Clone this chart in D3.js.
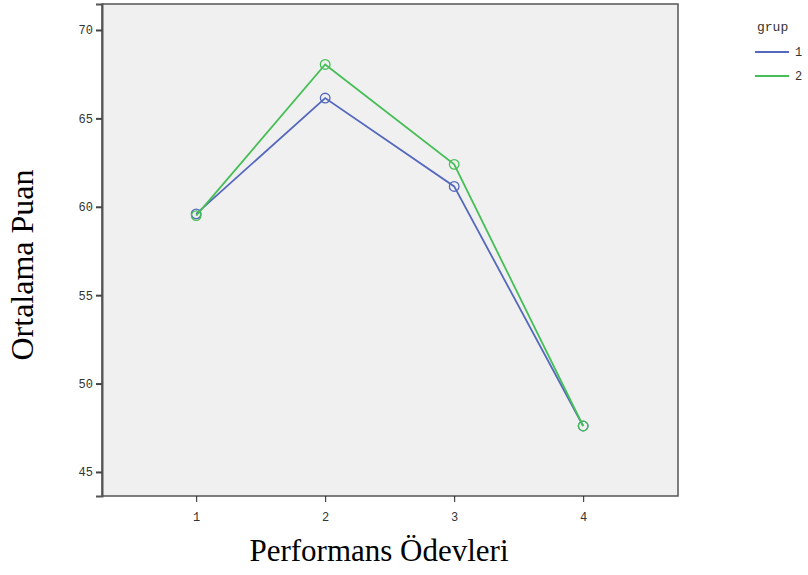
<!DOCTYPE html>
<html><head><meta charset="utf-8">
<script src="https://cdn.jsdelivr.net/npm/d3@7"></script>
<style>body{margin:0;background:#fff}svg{display:block}</style>
</head><body>
<script>
const categories = [1, 2, 3, 4];
const group1 = [59.6, 66.15, 61.15, 47.6];
const group2 = [59.5, 68.05, 62.4, 47.6];
const yTicks = [45, 50, 55, 60, 65, 70];
const seriesNames = ["1", "2"];
const colors = ["#5468bd", "#45bf55"];

const W = 808, H = 575;
const svg = d3.select("body").append("svg").attr("width", W).attr("height", H);
const L = 102, T = 4, R = 678, B = 496;
const x = d3.scaleLinear().domain([0.27, 4.735]).range([L, R]);
const y = d3.scaleLinear().domain([43.64, 71.47]).range([B, T]);

svg.append("rect").attr("x", L).attr("y", T).attr("width", R - L).attr("height", B - T)
  .attr("fill", "#f0f0f0").attr("stroke", "#555").attr("stroke-width", 1.5);

const yAxis = d3.axisLeft(y).tickValues(yTicks).tickSize(6).tickPadding(3).tickFormat(d3.format("d"));
const gy = svg.append("g").attr("transform", `translate(${L},0)`).call(yAxis);
gy.select(".domain").attr("stroke", "#555").attr("stroke-width", 2);
gy.selectAll(".tick line").attr("stroke", "#444").attr("stroke-width", 2);
gy.selectAll("text").attr("font-family", "Liberation Mono").attr("font-size", 12).attr("fill", "#333");

const xAxis = d3.axisBottom(x).tickValues(categories).tickSize(6).tickPadding(10).tickFormat(d3.format("d"));
const gx = svg.append("g").attr("transform", `translate(0,${B})`).call(xAxis);
gx.select(".domain").remove();
gx.selectAll(".tick line").attr("stroke", "#222").attr("stroke-width", 1);
gx.selectAll("text").attr("font-family", "Liberation Mono").attr("font-size", 12).attr("fill", "#333");

const series = [group1, group2];
const line = d3.line().x((d, i) => x(categories[i])).y(d => y(d));
series.forEach((s, k) => {
  svg.append("path").datum(s).attr("d", line).attr("fill", "none")
    .attr("stroke", colors[k]).attr("stroke-width", 1.8);
  svg.selectAll(null).data(s).enter().append("circle")
    .attr("cx", (d, i) => x(categories[i])).attr("cy", d => y(d)).attr("r", 4.8)
    .attr("fill", "none").attr("stroke", colors[k]).attr("stroke-width", 1.3);
});

svg.append("text").attr("x", 379).attr("y", 561).attr("text-anchor", "middle")
  .attr("font-family", "Liberation Serif").attr("font-size", 31).attr("fill", "#000")
  .text("Performans Ödevleri");
svg.append("text").attr("transform", "translate(33,265) rotate(-90)").attr("text-anchor", "middle")
  .attr("font-family", "Liberation Serif").attr("font-size", 32).attr("fill", "#000")
  .text("Ortalama Puan");

const lg = svg.append("g");
lg.append("text").attr("x", 757).attr("y", 31).attr("font-family", "Liberation Mono")
  .attr("font-size", 13).attr("fill", "#333").text("grup");
seriesNames.forEach((n, k) => {
  const yy = 52 + k * 24;
  lg.append("line").attr("x1", 755).attr("x2", 789).attr("y1", yy).attr("y2", yy)
    .attr("stroke", colors[k]).attr("stroke-width", 1.8);
  lg.append("text").attr("x", 795).attr("y", yy + 4).attr("font-family", "Liberation Mono")
    .attr("font-size", 12).attr("fill", "#333").text(n);
});
</script>
</body></html>
